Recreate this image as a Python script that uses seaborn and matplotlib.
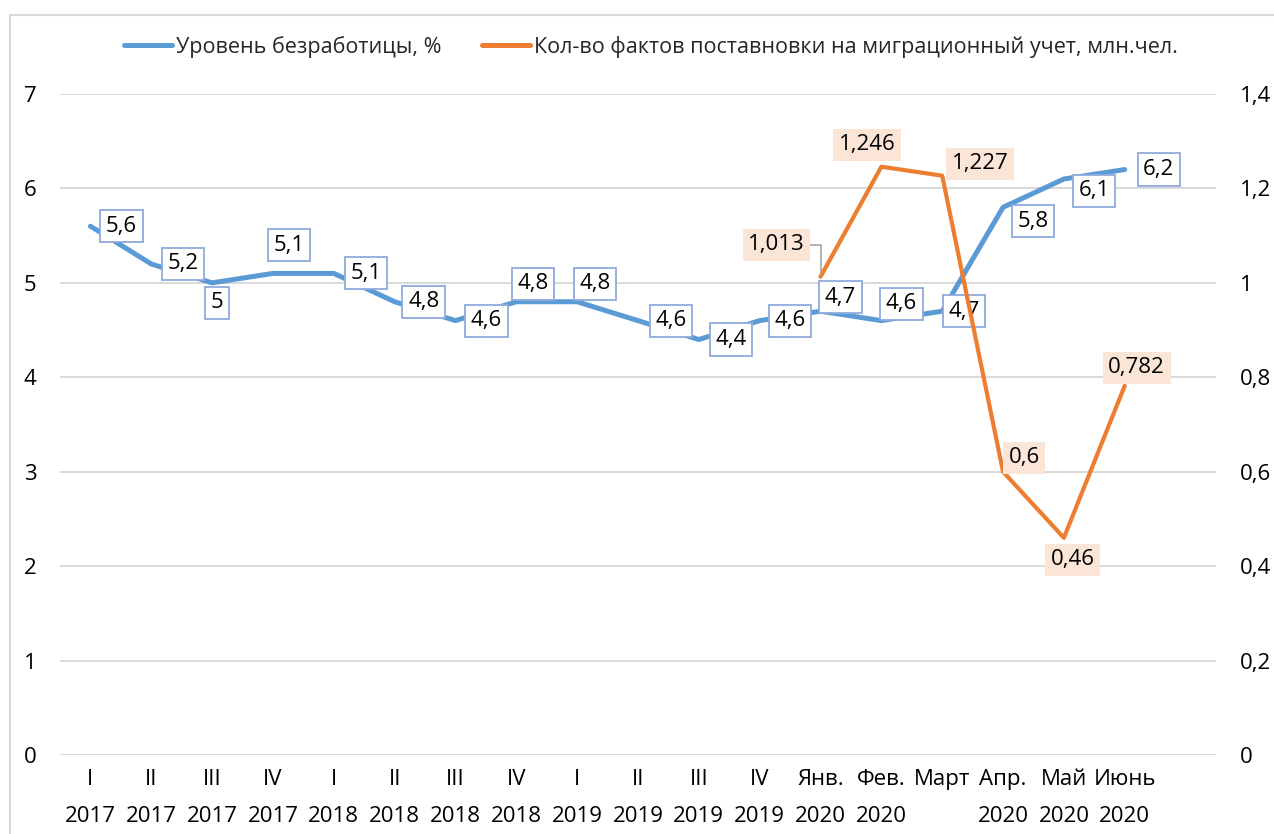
import matplotlib.pyplot as plt
import matplotlib.patches as mpatches
from matplotlib.lines import Line2D
from matplotlib.ticker import FuncFormatter
import numpy as np
import pandas as pd
import seaborn as sns

# data
periods = ['I\n2017', 'II\n2017', 'III\n2017', 'IV\n2017',
           'I\n2018', 'II\n2018', 'III\n2018', 'IV\n2018',
           'I\n2019', 'II\n2019', 'III\n2019', 'IV\n2019',
           'Янв.\n2020', 'Фев.\n2020', 'Март\n', 'Апр.\n2020', 'Май\n2020', 'Июнь\n2020']
unemployment = [5.6, 5.2, 5.0, 5.1, 5.1, 4.8, 4.6, 4.8, 4.8, 4.6, 4.4, 4.6,
                4.7, 4.6, 4.7, 5.8, 6.1, 6.2]
migration = [None] * 12 + [1.013, 1.246, 1.227, 0.6, 0.46, 0.782]

name_unemp = 'Уровень безработицы, %'
name_migr = 'Кол-во фактов поставновки на миграционный учет, млн.чел.'

# label offsets in pixels (dx right, dy down) relative to the point
unemp_off = [(31, 0), (32, 0), (5, 20), (16, -28), (32, 0), (29, 0), (31, 0),
             (17, -18), (18, -18), (33, 0), (32, 0), (30, 0), (20, -14),
             (20, -17), (22, 0), (30, 14), (30, 12), (34, 0)]
migr_off = {12: (-44, -32), 13: (-14, -22), 14: (38, -12),
            15: (21, -14), 16: (9, 22), 17: (12, -18)}

BLUE = '#5B9BD5'
ORANGE = '#ED7D31'
FS = 16

df = pd.DataFrame({'pos': range(len(periods)), 'unemp': unemployment,
                   'migr': pd.to_numeric(pd.Series(migration), errors='coerce')})


def comma(v, pos=None):
    return ('%g' % v).replace('.', ',')


sns.set_theme(style='white')
plt.rcParams['font.family'] = ['Open Sans', 'DejaVu Sans']
plt.rcParams['font.size'] = FS

fig = plt.figure(figsize=(12.74, 8.34), dpi=100)
ax = fig.add_axes([60 / 1274, 1 - 755 / 834, (1216 - 60) / 1274, (755 - 94) / 834])
ax2 = ax.twinx()

sns.lineplot(data=df, x='pos', y='unemp', ax=ax, color=BLUE, linewidth=3.6,
             legend=False)
sns.lineplot(data=df.dropna(), x='pos', y='migr', ax=ax2, color=ORANGE,
             linewidth=3.0, legend=False)

ax.set_xlim(-0.5, 18.5)
ax.set_ylim(0, 7)
ax2.set_ylim(0, 1.4)
ax.set_yticks(range(0, 8))
ax2.set_yticks(np.arange(0, 1.41, 0.2))
ax2.yaxis.set_major_formatter(FuncFormatter(comma))
ax.set_xticks(range(len(periods)))
ax.set_xticklabels(periods, linespacing=2.0)
ax.set_xlabel('')
ax.set_ylabel('')
ax2.set_ylabel('')
ax.yaxis.grid(True, color='#D9D9D9', linewidth=1.4)
ax.xaxis.grid(False)
ax2.grid(False)
for a in (ax, ax2):
    for s in a.spines.values():
        s.set_visible(False)
ax.tick_params(axis='x', length=0, pad=10, labelsize=FS, colors='black')
ax.tick_params(axis='y', length=0, pad=17, labelsize=FS, colors='black')
ax2.tick_params(axis='y', length=0, pad=17, labelsize=FS, colors='black')

px = 0.72
# blue labels go on the twin axes (scaled 7 -> 1.4) so they sit above the line
for i, v in enumerate(unemployment):
    dx, dy = unemp_off[i]
    ax2.annotate(comma(v), (i, v / 5), xytext=(dx * px, -dy * px),
                 textcoords='offset points', ha='center', va='center',
                 fontsize=FS, color='black', zorder=1,
                 bbox=dict(boxstyle='square,pad=0.25', fc='white',
                           ec='#8FAADC', lw=1.3))

for i, v in enumerate(migration):
    if v is None:
        continue
    dx, dy = migr_off[i]
    kw = {}
    if i == 12:
        kw['arrowprops'] = dict(arrowstyle='-', color='#A6A6A6', lw=1.2,
                                shrinkA=0, shrinkB=3,
                                connectionstyle='angle,angleA=0,angleB=90,rad=0')
    ax2.annotate(comma(v), (i, v), xytext=(dx * px, -dy * px),
                 textcoords='offset points', ha='center', va='center',
                 fontsize=FS, color='black', zorder=6,
                 bbox=dict(boxstyle='square,pad=0.25', fc='#FBE5D6', ec='none'),
                 **kw)

handles = [Line2D([], [], color=BLUE, lw=3.6), Line2D([], [], color=ORANGE, lw=3.6)]
fig.legend(handles, [name_unemp, name_migr], loc='center',
           bbox_to_anchor=(651 / 1274, 1 - 47 / 834), ncol=2, frameon=False,
           fontsize=15.5, handlelength=2.2, handletextpad=0.2, columnspacing=1.9)

# light frame around the chart area
fig.patches.append(mpatches.Rectangle((10 / 1274, -0.05), 1.1, 0.05 + 1 - 15 / 834,
                                      transform=fig.transFigure, fill=False,
                                      ec='#D9D9D9', lw=1.5))

fig.savefig('out.png', dpi=100)
